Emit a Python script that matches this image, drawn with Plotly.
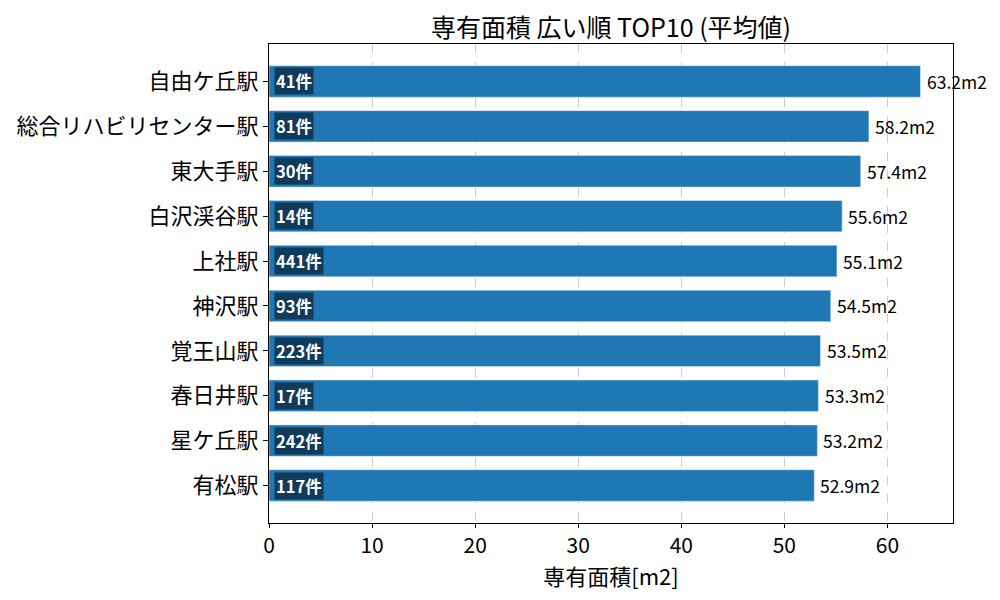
import plotly.graph_objects as go

# 専有面積 広い順 TOP10
stations = ["自由ケ丘駅", "総合リハビリセンター駅", "東大手駅", "白沢渓谷駅", "上社駅",
            "神沢駅", "覚王山駅", "春日井駅", "星ケ丘駅", "有松駅"]
area_mean = [63.2, 58.2, 57.4, 55.6, 55.1, 54.5, 53.5, 53.3, 53.2, 52.9]
counts = [41, 81, 30, 14, 441, 93, 223, 17, 242, 117]

# 下から描くので逆順
st = stations[::-1]
vals = area_mean[::-1]
cnt = counts[::-1]

FONT = "Noto Sans CJK JP"

fig = go.Figure()
fig.add_trace(go.Bar(
    x=vals, y=st, orientation="h",
    marker_color="#1f77b4", width=0.7,
    hoverinfo="skip",
))

annos = []
for s, v, c in zip(st, vals, cnt):
    annos.append(dict(x=v + 0.4, y=s, text=f"{v:.1f}m2", showarrow=False,
                      xanchor="left", yanchor="middle",
                      font=dict(family=FONT, size=17.5, color="black")))
    annos.append(dict(x=0.5, y=s, text=f"<b>{c}件</b>", showarrow=False,
                      xanchor="left", yanchor="middle",
                      bgcolor="#103b5a", borderpad=1,
                      font=dict(family=FONT, size=16.5, color="white")))

# ページ余白(8px)のぶんずらしておく
fig.update_layout(
    width=1000, height=600,
    paper_bgcolor="white", plot_bgcolor="white",
    margin=dict(l=261, r=55, t=36, b=85),
    title=dict(text="専有面積 広い順 TOP10 (平均値)", x=0.5, xanchor="center",
               xref="paper", y=0.967, yanchor="middle",
               font=dict(family=FONT, size=25, color="black")),
    font=dict(family=FONT, color="black"),
    showlegend=False,
    annotations=annos,
)
fig.update_xaxes(
    range=[0, 66.36], dtick=10, tick0=0,
    showgrid=True, gridcolor="#cccccc", griddash="dash", gridwidth=1,
    zeroline=False,
    showline=True, linecolor="black", linewidth=1.2, mirror=True,
    ticks="outside", ticklen=4, tickcolor="black",
    tickfont=dict(family=FONT, size=21),
    title=dict(text="専有面積[m2]", font=dict(family=FONT, size=22), standoff=0),
)
fig.update_yaxes(
    range=[-0.835, 9.835],
    showgrid=False, zeroline=False,
    showline=True, linecolor="black", linewidth=1.2, mirror=True,
    ticks="outside", ticklen=5, tickcolor="black",
    tickfont=dict(family=FONT, size=22),
    automargin=False,
)

fig.write_html("out.html")
